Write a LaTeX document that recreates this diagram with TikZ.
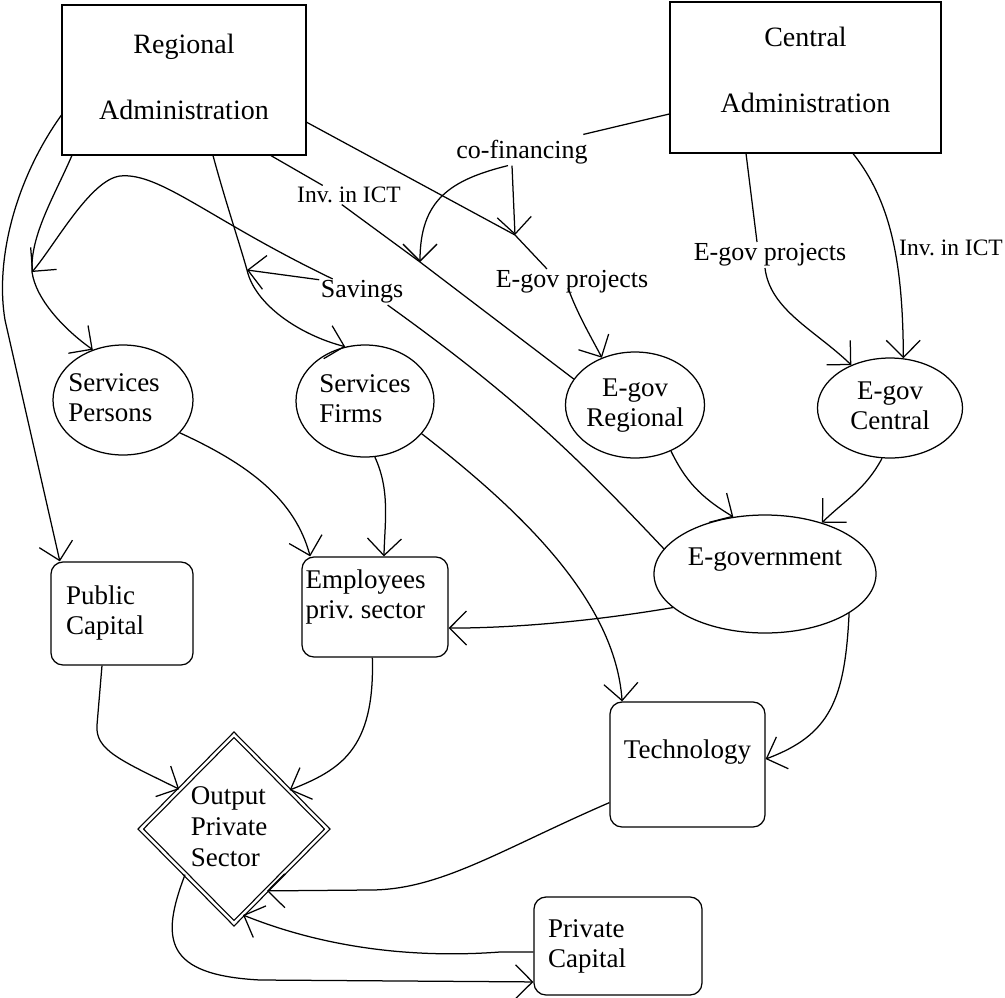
\documentclass[tikz,border=0pt]{standalone}
\usepackage{fontspec}
\setmainfont{Liberation Serif}
\usetikzlibrary{arrows.meta,shapes.geometric,calc}
\frenchspacing
\begin{document}
\begin{tikzpicture}[x=1pt,y=-1pt,line width=1.25pt,
  >={Straight Barb[length=17pt,width=34pt]},
  font=\fontsize{27}{30}\selectfont,
  box/.style={draw,rectangle,inner sep=0pt},
  rbox/.style={draw,rectangle,rounded corners=12pt,inner sep=0pt},
  oval/.style={draw,ellipse,inner sep=0pt},
  lab/.style={inner sep=1pt,font=\fontsize{26}{30}\selectfont},
  smalllab/.style={inner sep=1pt,font=\fontsize{23.5}{28}\selectfont}]
\useasboundingbox (0,0) rectangle (1005,997);
% main boxes
\node[box,minimum width=244pt,minimum height=150pt,font=\fontsize{28}{30}\selectfont] (ra) at (184,80)
  {\begin{tabular}{@{}c@{}}Regional\\[36pt]Administration\end{tabular}};
\node[box,minimum width=271pt,minimum height=151pt,font=\fontsize{28}{30}\selectfont] (ca) at (805.5,77.5)
  {\raisebox{4pt}[\height][\depth]{\begin{tabular}{@{}c@{}}Central\\[36pt]Administration\end{tabular}}};
% ellipses
\node[oval,minimum width=140pt,minimum height=110pt] (sp) at (123,400)
  {\hspace*{-18pt}\begin{tabular}{@{}l@{}}Services\\Persons\end{tabular}};
\node[oval,minimum width=138pt,minimum height=112pt] (sf) at (365,401)
  {\begin{tabular}{@{}l@{}}Services\\Firms\end{tabular}};
\node[oval,minimum width=139pt,minimum height=106pt] (er) at (635,405)
  {\begin{tabular}{@{}c@{}}E-gov\\Regional\end{tabular}};
\node[oval,minimum width=145pt,minimum height=100pt] (ec) at (890,408)
  {\begin{tabular}{@{}c@{}}E-gov\\Central\end{tabular}};
\node[oval,minimum width=222pt,minimum height=118pt] (eg) at (765,574)
  {\raisebox{14pt}[\height][\depth]{E-government}};
% rounded boxes
\node[rbox,minimum width=142pt,minimum height=103pt] (pc) at (122,613.5)
  {\hspace*{-34pt}\begin{tabular}{@{}l@{}}Public\\Capital\end{tabular}};
\node[rbox,minimum width=146pt,minimum height=100pt] (emp) at (375,607)
  {\hspace*{-19pt}\raisebox{10pt}[\height][\depth]{\begin{tabular}{@{}l@{}}Employees\\priv. sector\end{tabular}}};
\node[rbox,minimum width=155pt,minimum height=125pt] (tech) at (687.5,764.5)
  {\raisebox{12pt}[\height][\depth]{Technology}};
\node[rbox,minimum width=168pt,minimum height=98pt] (prc) at (618,946)
  {\hspace*{-62pt}\begin{tabular}{@{}l@{}}Private\\Capital\end{tabular}};
% diamond
\node[draw,diamond,double,double distance=2.5pt,inner sep=0pt,minimum width=187pt,minimum height=189pt,
  font=\fontsize{27}{31}\selectfont] (out) at (234,829)
  {\hspace*{-10pt}\begin{tabular}{@{}l@{}}Output\\Private\\Sector\end{tabular}};
% labels
\node[lab] (cof) at (522,152) {co-financing};
\node[smalllab] (invr) at (349,195) {Inv. in ICT};
\node[lab] (sav) at (362,292) {Savings};
\node[lab] (epr) at (572,282) {E-gov projects};
\node[lab] (epc) at (770,255) {E-gov projects};
\node[smalllab] (invc) at (951,248) {Inv. in ICT};
% junctions
\coordinate (jP) at (32,272);
\coordinate (jF) at (247,270);
\coordinate (jI) at (420,262);
\coordinate (jE) at (515,235);
% connectors
\draw[->] (ra.196) .. controls (15,180) and (-5,260) .. (5,320) -- (pc.140.3);
\draw[->] (ra.214.8) .. controls (55,195) and (30,235) .. (jP) .. controls (36,300) and (65,330) .. (sp.121);
\draw[->] (sav.156) .. controls (210,220) and (160,172) .. (120,176) .. controls (90,180) and (55,245) .. (jP);
\draw[->] (ra.291.1) .. controls (225,200) and (240,245) .. (jF) .. controls (255,305) and (300,335) .. (sf.110.3);
\draw[->] (sav.164) -- (jF);
\draw (ra.319.9) -- (invr.160);
\draw (invr.233) -- (jI) -- (er.157.4);
\draw (ra.341) -- (jE) -- ($(epr.north)+(-25,0)$);
\draw (ca.195.5) -- ($(cof.north east)+(-6,-4)$);
\draw[->] ($(cof.south)+(-14,0)$) .. controls (450,180) and (420,200) .. (jI);
\draw[->] ($(cof.south)+(-10,0)$) -- (jE);
\draw[->] ($(epr.south)+(-4,-7)$) .. controls (578,315) and (590,335) .. (er.125);
\draw (ca.232.7) -- ($(epc.north)+(-13,0)$);
\draw[->] ($(epc.south)+(-5,0)$) .. controls (770,310) and (815,330) .. (ec.132.9);
\draw[->] (ca.302.2) .. controls (890,200) and (903,260) .. (ec.75.7);
\draw[->] (sp.330.8) .. controls (250,465) and (295,500) .. (emp.142.4);
\draw[->] (sf.280) .. controls (390,490) and (385,520) .. (emp.80.9);
\draw[->] (sf.330.7) .. controls (520,510) and (615,600) .. (tech.136.3);
\draw[->] (er.308.2) .. controls (685,480) and (700,497) .. (eg.119.3);
\draw[->] (ec.261.3) .. controls (865,490) and (845,500) .. (eg.42.4);
\draw (eg.166.8) .. controls (580,460) and (520,400) .. (sav.333);
\draw[->] (eg.200.1) .. controls (600,620) and (520,628) .. (emp.344);
\draw[->] (eg.335.9) .. controls (845,700) and (830,735) .. (tech.4.8);
\draw[->] (pc.249.7) -- (97,725) .. controls (95,750) and (120,760) .. (out.144.3);
\draw[->] (emp.267.7) .. controls (375,750) and (340,770) .. (out.35.4);
\draw[->] (tech.206.4) .. controls (500,850) and (440,890) .. (370,890) -- (out.298.4);
\draw[->] (prc.184.1) -- (500,952) .. controls (420,958) and (330,950) .. (out.276);
\draw[->] (out.223.3) .. controls (160,940) and (165,975) .. (260,980) -- (prc.203.8);
\end{tikzpicture}
\end{document}
